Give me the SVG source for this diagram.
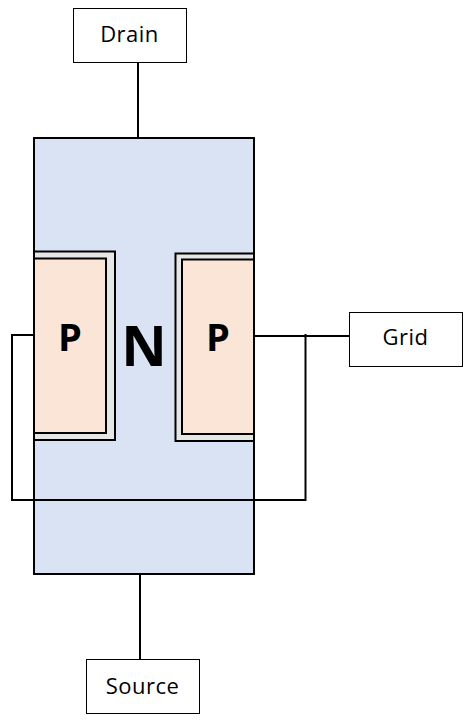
<svg xmlns="http://www.w3.org/2000/svg" width="474" height="725" viewBox="0 0 474 725">
<style>
.box{fill:#fff;stroke:#000;stroke-width:1}
.lbl{font-family:"Open Sans","Noto Sans",sans-serif;font-size:22px;letter-spacing:.5px;fill:#000;text-anchor:middle}
.big{font-family:"Open Sans","Noto Sans",sans-serif;font-weight:700;fill:#000;text-anchor:middle}
.well{fill:#e7e6e6;stroke:#000;stroke-width:2}
.p{fill:#fbe5d6;stroke:#000;stroke-width:2}
.w{fill:none;stroke:#000;stroke-width:2}
</style>
<rect width="474" height="725" fill="#fff"/>
<g id="body"><rect x="34" y="138" width="220" height="436" fill="#dae3f3" stroke="#000" stroke-width="2"/>
<text class="big" x="144" y="366" font-size="56">N</text></g>
<g id="p-left"><path class="well" d="M34 251.500H115V440H34"/><path class="p" d="M34 258.500H106V433H34"/>
<path d="M34 240V450" fill="none" stroke="#000" stroke-width="2"/>
<text class="big" x="70" y="351" font-size="38">P</text></g>
<g id="p-right"><path class="well" d="M254 253.500H175.500V441H254"/><path class="p" d="M254 259.500H182V434H254"/>
<path d="M254 245V450" fill="none" stroke="#000" stroke-width="2"/>
<text class="big" x="218" y="351" font-size="38">P</text></g>
<g id="connectors">
<path class="w" d="M138 62V138"/>
<path class="w" d="M140 574V659"/>
<path class="w" d="M254 336H350"/>
<path class="w" d="M34 335H12V500H305.500V334"/>
</g>
<g id="drain"><rect class="box" x="73.500" y="8.500" width="113" height="54"/><text class="lbl" x="129.500" y="42">Drain</text></g>
<g id="grid"><rect class="box" x="349.500" y="312.500" width="113" height="54"/><text class="lbl" x="405.500" y="345">Grid</text></g>
<g id="source"><rect class="box" x="86.500" y="659.500" width="113" height="54"/><text class="lbl" x="142.500" y="694">Source</text></g>
</svg>
